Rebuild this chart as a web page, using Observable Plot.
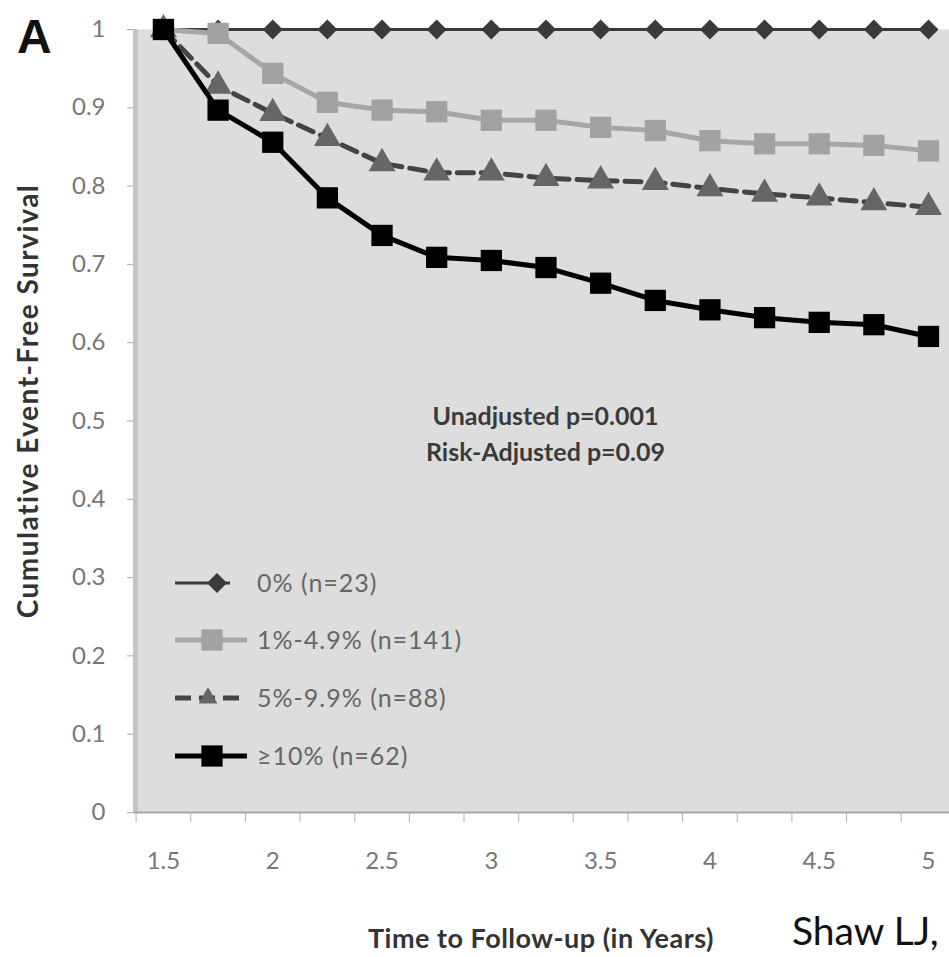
<!DOCTYPE html>
<html>
<head>
<meta charset="utf-8">
<script src="https://cdn.jsdelivr.net/npm/d3@7"></script>
<script src="https://cdn.jsdelivr.net/npm/@observablehq/plot@0.6"></script>
<style>
  html, body { margin: 0; padding: 0; background: #ffffff; }
  #wrap { position: relative; width: 949px; height: 957px; overflow: hidden; font-family: Lato, "Open Sans", sans-serif; }
  #wrap > svg { position: absolute; left: 0; top: 0; }
  #overlay { pointer-events: none; }
</style>
</head>
<body>
<div id="wrap"></div>
<script>
// ---------------- data ----------------
const years = [1.5, 1.75, 2, 2.25, 2.5, 2.75, 3, 3.25, 3.5, 3.75, 4, 4.25, 4.5, 4.75, 5];
const seriesLabels = ["0% (n=23)", "1%-4.9% (n=141)", "5%-9.9% (n=88)", "\u226510% (n=62)"];
const survival0  = [1, 1, 1, 1, 1, 1, 1, 1, 1, 1, 1, 1, 1, 1, 1];
const survival1  = [1.0, 0.995, 0.944, 0.907, 0.897, 0.895, 0.884, 0.884, 0.875, 0.871, 0.858, 0.854, 0.854, 0.852, 0.845];
const survival5  = [1.0, 0.928, 0.893, 0.861, 0.829, 0.817, 0.817, 0.810, 0.807, 0.805, 0.797, 0.790, 0.785, 0.779, 0.773];
const survival10 = [1.0, 0.897, 0.856, 0.785, 0.737, 0.709, 0.705, 0.696, 0.676, 0.654, 0.642, 0.632, 0.626, 0.623, 0.608];
const xTickLabels = [1.5, 2, 2.5, 3, 3.5, 4, 4.5, 5];
const xCategoryBounds = [1.375, 1.625, 1.875, 2.125, 2.375, 2.625, 2.875, 3.125, 3.375, 3.625, 3.875, 4.125, 4.375, 4.625, 4.875];
const yTicks = [0, 0.1, 0.2, 0.3, 0.4, 0.5, 0.6, 0.7, 0.8, 0.9, 1];
const annotationLines = ["Unadjusted p=0.001", "Risk-Adjusted p=0.09"];
const xTitle = "Time to Follow-up (in Years)";
const yTitle = "Cumulative Event-Free Survival";
const panelLabel = "A";
const citation = "Shaw LJ,";

// ---------------- styling ----------------
const styles = [
  { stroke: "#3a3a3a", width: 3, dash: null, symbol: "diamond2", r: 9, fill: "#3a3a3a" },
  { stroke: "#a6a6a6", width: 5, dash: null, symbol: "square", r: 12, fill: "#a2a2a2" },
  { stroke: "#444444", width: 5, dash: "16,8", symbol: "triangle", r: 10, fill: "#666666" },
  { stroke: "#000000", width: 5, dash: null, symbol: "square", r: 12, fill: "#000000" }
];
const allSeries = [survival0, survival1, survival5, survival10];
const rows = allSeries.map((vals, i) => years.map((yr, j) => ({ year: yr, value: vals[j], series: seriesLabels[i] })));

const W = 949, H = 957;
const xDomain = [1.363, 5.096];

const marks = [
  Plot.frame({ fill: "#dddddd", stroke: null }),
  Plot.ruleX([xDomain[0]], { stroke: "#c4c4c4", strokeWidth: 5, dx: 2 }),
  Plot.ruleY([0], { stroke: "#a8a8a8", strokeWidth: 2 }),
  Plot.axisY({ ticks: yTicks, tickSize: 6, tickPadding: 22, stroke: "#aaaaaa", fill: "#777777", fontSize: 24, tickFormat: d => d === 0 ? "0" : d === 1 ? "1" : d3.format(".1f")(d), label: null }),
  Plot.axisX({ ticks: xCategoryBounds, tickSize: 10, stroke: "#b0b0b0", tickFormat: () => "", label: null }),
  Plot.axisX({ ticks: xTickLabels, tickSize: 0, tickPadding: 39, fill: "#777777", fontSize: 24, tickFormat: d => String(d), label: null })
];
rows.forEach((data, i) => {
  const s = styles[i];
  marks.push(Plot.line(data, { x: "year", y: "value", stroke: s.stroke, strokeWidth: s.width, strokeDasharray: s.dash, strokeLinejoin: "round" }));
  marks.push(Plot.dot(data, { x: "year", y: "value", symbol: () => s.symbol, r: s.r, fill: s.fill, stroke: null }));
});
const annStyle = { frameAnchor: "middle", text: d => d, fontSize: 25, fontWeight: 700, fill: "#3a3a3a", textDecoration: "underline", letterSpacing: "0.3px" };
marks.push(Plot.text([annotationLines[0]], { ...annStyle, dx: 4, dy: -4 }));
marks.push(Plot.text([annotationLines[1]], { ...annStyle, dx: 4, dy: 32 }));

const chart = Plot.plot({
  width: W,
  height: H,
  marginTop: 29,
  marginBottom: H - 812,
  marginLeft: 133,
  marginRight: 0,
  style: { fontFamily: "Lato, 'Open Sans', sans-serif", background: "transparent", overflow: "visible" },
  x: { domain: xDomain },
  y: { domain: [0, 1] },
  symbol: { type: "identity" },
  marks
});
document.getElementById("wrap").appendChild(chart);

// ---------------- overlay: panel label, axis titles, legend, citation ----------------
const ov = d3.select("#wrap").append("svg").attr("id", "overlay").attr("width", W).attr("height", H);
ov.append("text").attr("x", 17).attr("y", 53).text(panelLabel)
  .attr("font-family", "'Liberation Sans', Arial, sans-serif").attr("font-weight", 700).attr("font-size", 48).attr("fill", "#111");
ov.append("text").attr("transform", "translate(38,401) rotate(-90)").attr("text-anchor", "middle").text(yTitle)
  .attr("font-family", "Lato, sans-serif").attr("font-weight", 700).attr("font-size", 28).attr("letter-spacing", "1.5px").attr("fill", "#333");
ov.append("text").attr("x", 541).attr("y", 948).attr("text-anchor", "middle").text(xTitle)
  .attr("font-family", "Lato, sans-serif").attr("font-weight", 700).attr("font-size", 27).attr("letter-spacing", "0.5px").attr("fill", "#333");
ov.append("text").attr("x", 792).attr("y", 945).text(citation)
  .attr("font-family", "Lato, sans-serif").attr("font-size", 39).attr("fill", "#111");

const legendY = [583, 640, 698, 756];
const legendLineEnd = [230, 247, 247, 247];
const legendMarkerX = [217, 212, 208, 212];
seriesLabels.forEach((lab, i) => {
  const s = styles[i];
  const g = ov.append("g").attr("transform", `translate(0,${legendY[i]})`);
  g.append("line").attr("x1", 175).attr("x2", legendLineEnd[i]).attr("y1", 0).attr("y2", 0)
    .attr("stroke", s.stroke).attr("stroke-width", s.width).attr("stroke-dasharray", s.dash);
  const symType = { diamond2: d3.symbolDiamond2, square: d3.symbolSquare, triangle: d3.symbolTriangle }[s.symbol];
  const rr = i === 2 ? 7 : s.r;
  g.append("path").attr("transform", `translate(${legendMarkerX[i]},0)`)
    .attr("d", d3.symbol(symType, Math.PI * rr * rr)()).attr("fill", s.fill);
  g.append("text").attr("x", 257).attr("y", 0).attr("dy", "0.35em").text(lab)
    .attr("font-family", "Lato, sans-serif").attr("font-size", 25).attr("letter-spacing", "1px").attr("fill", "#666");
});
</script>
</body>
</html>
